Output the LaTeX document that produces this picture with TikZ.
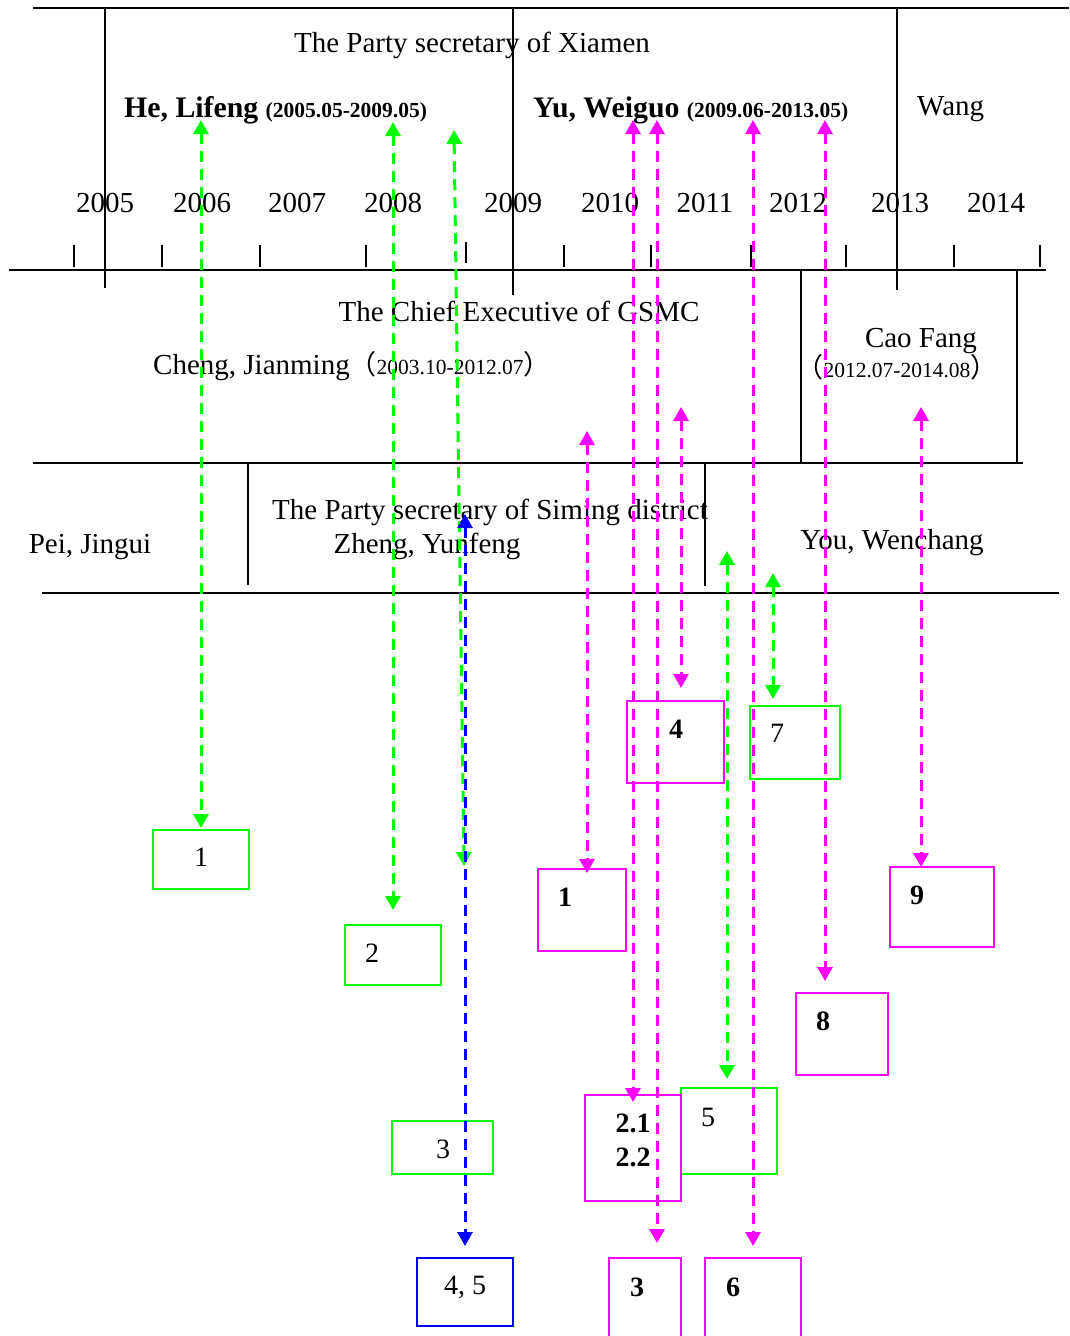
\documentclass[tikz,border=0pt]{standalone}
\usepackage{fontspec}
\setmainfont{Liberation Serif}
\newfontfamily\cjk{Noto Sans CJK SC}
\usepackage{tikz}
\usetikzlibrary{arrows.meta}

\definecolor{grn}{RGB}{0,255,0}
\definecolor{mag}{RGB}{255,0,255}
\definecolor{blu}{RGB}{0,0,255}

\newcommand{\smalldates}[1]{{\fontsize{21.5}{24}\selectfont #1}}
\newcommand{\lpar}{{\cjk\fontsize{27}{30}\selectfont （}}
\newcommand{\rpar}{{\cjk\fontsize{27}{30}\selectfont ）}}

\tikzset{
  sepline/.style={line width=2.9pt},
  yeartick/.style={line width=2.7pt},
  txt/.style={font=\fontsize{29}{34}\selectfont, inner sep=0pt},
  conn/.style={dash pattern=on 11pt off 7pt, line width=3pt,
    {Triangle[width=15pt,length=14pt]}-{Triangle[width=15pt,length=14pt]}},
  gconn/.style={conn, draw=grn},
  mconn/.style={conn, draw=mag},
  bconn/.style={conn, draw=blu},
  entrybox/.style={draw, line width=1.8pt, inner sep=0pt},
  gbox/.style={entrybox, draw=grn},
  mbox/.style={entrybox, draw=mag},
  bbox/.style={entrybox, draw=blu},
  boxtxt/.style={font=\fontsize{28}{32}\selectfont, inner sep=0pt},
  boxnum/.style={font=\fontsize{28}{32}\selectfont\bfseries, inner sep=0pt}
}

\begin{document}
\begin{tikzpicture}[x=1pt, y=-1pt]
    \useasboundingbox (0,0) rectangle (1069,1336);

    \draw[sepline] (33,8) -- (1069,8);
    \draw[sepline] (105,8) -- (105,288);
    \draw[sepline] (513,8) -- (513,295);
    \draw[sepline] (897,8) -- (897,290);
    \draw[sepline] (9,270) -- (1046,270);
    \draw[sepline] (33,463) -- (1023,463);
    \draw[sepline] (801,270) -- (801,463);
    \draw[sepline] (1017,270) -- (1017,463);
    \draw[sepline] (248,463) -- (248,585);
    \draw[sepline] (705,463) -- (705,586);
    \draw[sepline] (42,593) -- (1059,593);

    \draw[yeartick] (74,245) -- (74,267);
    \draw[yeartick] (162,245) -- (162,267);
    \draw[yeartick] (260,245) -- (260,267);
    \draw[yeartick] (366,245) -- (366,267);
    \draw[yeartick] (466,242) -- (466,263);
    \draw[yeartick] (564,245) -- (564,267);
    \draw[yeartick] (651,245) -- (651,267);
    \draw[yeartick] (751,245) -- (751,267);
    \draw[yeartick] (846,245) -- (846,267);
    \draw[yeartick] (954,245) -- (954,267);
    \draw[yeartick] (1040,245) -- (1040,267);

    \node[txt, anchor=base] (y2005) at (105,212) {2005};
    \node[txt, anchor=base] (y2006) at (202,212) {2006};
    \node[txt, anchor=base] (y2007) at (297,212) {2007};
    \node[txt, anchor=base] (y2008) at (393,212) {2008};
    \node[txt, anchor=base] (y2009) at (513,212) {2009};
    \node[txt, anchor=base] (y2010) at (610,212) {2010};
    \node[txt, anchor=base] (y2011) at (705,212) {2011};
    \node[txt, anchor=base] (y2012) at (798,212) {2012};
    \node[txt, anchor=base] (y2013) at (900,212) {2013};
    \node[txt, anchor=base] (y2014) at (996,212) {2014};

    \node[txt, anchor=base] (xiamen) at (472,52) {The Party secretary of Xiamen};
    \node[txt, anchor=base west] (he) at (124,117) {\fontsize{29.8}{34}\selectfont\bfseries He, Lifeng \smalldates{(2005.05-2009.05)}};
    \node[txt, anchor=base west] (yu) at (533,117) {\fontsize{29.8}{34}\selectfont\bfseries Yu, Weiguo \smalldates{(2009.06-2013.05)}};
    \node[txt, anchor=base west] (wang) at (917,115) {Wang};

    \node[txt, anchor=base] (gsmc) at (519,321) {The Chief Executive of GSMC};
    \node[txt, anchor=base west] (cheng) at (153,374) {Cheng, Jianming\lpar\smalldates{2003.10-2012.07}\rpar};
    \node[txt, anchor=base] (cao) at (921,347) {Cao Fang};
    \node[txt, anchor=base] (caodates) at (897,377) {\lpar\smalldates{2012.07-2014.08}\rpar};

    \node[txt, anchor=base] (pei) at (90,553) {Pei, Jingui};
    \node[txt, anchor=base] (siming) at (490,519) {The Party secretary of Siming district};
    \node[txt, anchor=base] (zheng) at (427,553) {Zheng, Yunfeng};
    \node[txt, anchor=base] (you) at (892,549) {You, Wenchang};

    \node[gbox, minimum width=96pt, minimum height=59pt] (gb1) at (201,859.5) {};
    \node[gbox, minimum width=96pt, minimum height=60pt] (gb2) at (393,955) {};
    \node[gbox, minimum width=101pt, minimum height=53pt] (gb3) at (442.5,1147.5) {};
    \node[gbox, minimum width=96pt, minimum height=86pt] (gb5) at (729,1131) {};
    \node[gbox, minimum width=90pt, minimum height=73pt] (gb7) at (795,742.5) {};
    \node[bbox, minimum width=96pt, minimum height=68pt] (bb45) at (465,1292) {};
    \node[mbox, minimum width=88pt, minimum height=82pt] (mb1) at (582,910) {};
    \node[mbox, minimum width=96pt, minimum height=106pt] (mb2) at (633,1148) {};
    \node[mbox, minimum width=72pt, minimum height=87pt] (mb3) at (645,1301.5) {};
    \node[mbox, minimum width=97pt, minimum height=82pt] (mb4) at (675.5,742) {};
    \node[mbox, minimum width=96pt, minimum height=87pt] (mb6) at (753,1301.5) {};
    \node[mbox, minimum width=92pt, minimum height=82pt] (mb8) at (842,1034) {};
    \node[mbox, minimum width=104pt, minimum height=80pt] (mb9) at (942,907) {};

    \node[boxtxt] (gt1) at (201,857) {1};
    \node[boxtxt] (gt2) at (372,953) {2};
    \node[boxtxt] (gt3) at (443,1149) {3};
    \node[boxtxt] (gt5) at (708,1117) {5};
    \node[boxtxt] (gt7) at (777,733) {7};
    \node[boxtxt] (bt45) at (465,1287) {4, 5};
    \node[boxnum] (mt1) at (565,897) {1};
    \node[boxnum] (mt21) at (633,1123) {2.1};
    \node[boxnum] (mt22) at (633,1157) {2.2};
    \node[boxnum] (mt3) at (637,1287) {3};
    \node[boxnum] (mt4) at (676,729) {4};
    \node[boxnum] (mt6) at (733,1287) {6};
    \node[boxnum] (mt8) at (823,1021) {8};
    \node[boxnum] (mt9) at (917,895) {9};

    \coordinate (ga1) at (201,120);
    \coordinate (ga2) at (201,828);
    \coordinate (gc1) at (393,122);
    \coordinate (gc2) at (393,910);
    \coordinate (gd1) at (454,130);
    \coordinate (gd2) at (464,866);
    \coordinate (ge1) at (727,551);
    \coordinate (ge2) at (727,1079);
    \coordinate (gf1) at (773,573);
    \coordinate (gf2) at (773,699);
    \coordinate (ba1) at (465,514);
    \coordinate (ba2) at (465,1246);
    \coordinate (ma1) at (587,431);
    \coordinate (ma2) at (587,873);
    \coordinate (mb1t) at (633,120);
    \coordinate (mb2t) at (633,1102);
    \coordinate (mc1) at (657,120);
    \coordinate (mc2) at (657,1243);
    \coordinate (md1) at (681,407);
    \coordinate (md2) at (681,688);
    \coordinate (me1) at (753,120);
    \coordinate (me2) at (753,1246);
    \coordinate (mf1) at (825,120);
    \coordinate (mf2) at (825,981);
    \coordinate (mg1) at (921,407);
    \coordinate (mg2) at (921,867);

    \draw[gconn] (ga1) -- (ga2);
    \draw[gconn] (gc1) -- (gc2);
    \draw[gconn] (gd1) -- (gd2);
    \draw[gconn] (ge1) -- (ge2);
    \draw[gconn] (gf1) -- (gf2);
    \draw[bconn] (ba1) -- (ba2);
    \draw[mconn] (ma1) -- (ma2);
    \draw[mconn] (mb1t) -- (mb2t);
    \draw[mconn] (mc1) -- (mc2);
    \draw[mconn] (md1) -- (md2);
    \draw[mconn] (me1) -- (me2);
    \draw[mconn] (mf1) -- (mf2);
    \draw[mconn] (mg1) -- (mg2);
  \end{tikzpicture}
\end{document}
